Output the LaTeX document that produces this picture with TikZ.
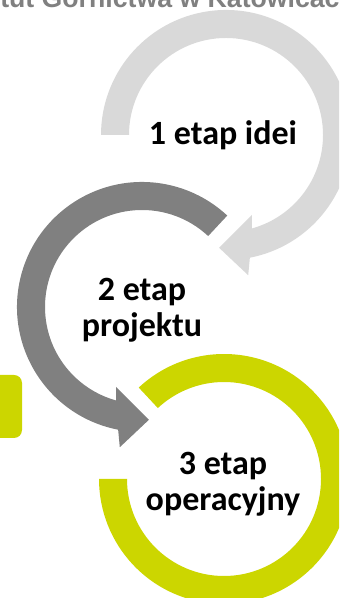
\documentclass[tikz,border=0pt]{standalone}
\usepackage{fontspec}
\setmainfont{Carlito}
\newfontfamily\headfont{Liberation Sans}
\usepackage{xcolor}
\usepackage{tikz}

\definecolor{ringlight}{RGB}{217,217,217}
\definecolor{ringdark}{RGB}{128,128,128}
\definecolor{ringlime}{RGB}{204,214,0}

\begin{document}
\begin{tikzpicture}[x=0.75pt, y=0.75pt,
            stage/.style={font=\fontsize{25.5}{27}\selectfont\bfseries, align=center, inner sep=0pt},
            header/.style={font=\headfont\fontsize{20}{24}\selectfont\bfseries, text=ringdark, inner sep=0pt, anchor=base west}
            ]
            \useasboundingbox (0,0) rectangle (339,598);
            \clip (0,0) rectangle (339,598);

            % Ring centres with manual coordinates
            \coordinate (c1) at (226,463);
            \coordinate (c2) at (142,291);
            \coordinate (c3) at (224,119);

            % Header, cut by the top edge
            \node[header] (head) at (0,590) {tut Górnictwa w Katowicach};

            % Side tab
            \fill[ringlime, rounded corners=6] (-10,160) rectangle (22,223);

            % Arrows
            \fill[ringlight, shift={(c1)}] (180:97) arc[start angle=180, end angle=-74.5, radius=97]
                -- (-72:84) -- (-93.5:113) -- (-81:142) -- (-79:125)
                arc[start angle=-79, end angle=180, radius=125] -- cycle;
            \fill[ringdark, shift={(c2)}] (47:97) arc[start angle=47, end angle=254.5, radius=97]
                -- (252:84) -- (273.5:113) -- (261:142) -- (259:125)
                arc[start angle=259, end angle=47, radius=125] -- cycle;
            \fill[ringlime, shift={(c3)}] (180:97) arc[start angle=180, end angle=493, radius=97]
                -- (493:125) arc[start angle=493, end angle=180, radius=125] -- cycle;

            % Labels
            \node[stage, anchor=base] (idea) at (223,453) {1 etap idei};
            \node[stage] (proj) at (142,288) {2 etap\\projektu};
            \node[stage] (oper) at (223,114) {3 etap\\operacyjny};
        \end{tikzpicture}
\end{document}
